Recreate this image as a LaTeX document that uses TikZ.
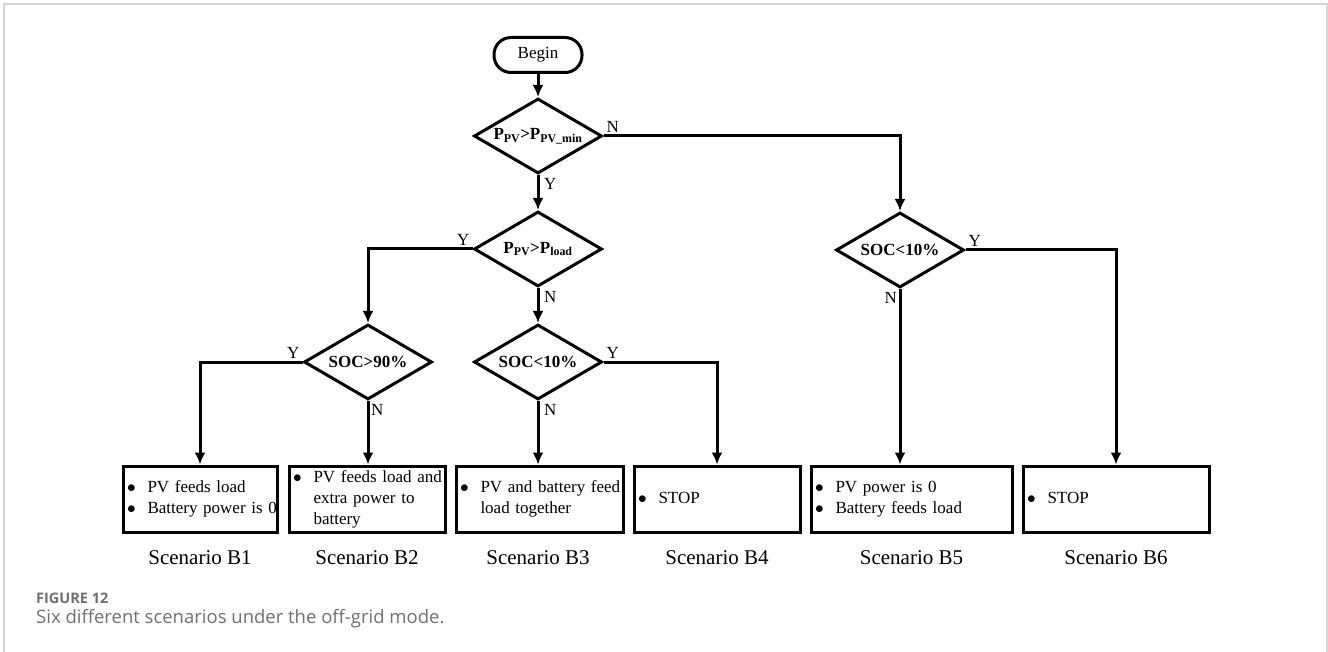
\documentclass[tikz,border=0pt]{standalone}
\usepackage{fontspec}
\setmainfont{Liberation Serif}
\newfontfamily\capfont{Open Sans}
\usetikzlibrary{shapes.geometric,arrows.meta}
\definecolor{framegray}{RGB}{214,214,214}
\definecolor{capgray}{RGB}{112,112,112}
\newcommand{\scentext}[1]{\begin{tabular}{@{}p{20.5pt}@{}l@{}}#1\end{tabular}}
\newcommand{\bdot}{$\bullet$}
\begin{document}
\begin{tikzpicture}[x=1pt, y=-1pt,
  every node/.style={font=\fontsize{17}{21}\selectfont},
  flow/.style={line width=3pt, -{Latex[length=12pt,width=11pt]}},
  startbox/.style={draw, line width=3pt, rounded corners=17pt, minimum width=88pt, minimum height=35pt, inner sep=0pt},
  decision/.style={draw, diamond, aspect=1.7, line width=3pt, minimum width=128pt, minimum height=75pt, inner sep=0pt, font=\fontsize{17}{21}\selectfont\bfseries},
  scenbox/.style={draw, rectangle, line width=3pt, minimum height=66pt, inner xsep=4pt, inner ysep=0pt, text width=#1, align=left},
  scenlabel/.style={font=\fontsize{21}{25}\selectfont},
  yn/.style={inner sep=3pt}]
\useasboundingbox (0,0) rectangle (1328,652);
\draw[framegray, line width=2pt] (4,652) -- (4,4) -- (1327,4) -- (1327,652);

% decisions
\node[startbox] (begin) at (538,55) {Begin};
\node[decision] (d1) at (538,136) {P\textsubscript{PV}>P\textsubscript{PV\_min}};
\node[decision] (d2) at (538,249) {P\textsubscript{PV}>P\textsubscript{load}};
\node[decision] (d3) at (368,362) {SOC>90\%};
\node[decision] (d4) at (538,362) {SOC<10\%};
\node[decision] (d5) at (900,250) {SOC<10\%};

% scenarios
\node[scenbox=146pt] (b1) at (200,499) {\scentext{\bdot & PV feeds load\\ \bdot & Battery power is 0}};
\node[scenbox=148pt] (b2) at (367,499) {\scentext{\bdot & PV feeds load and\\ & extra power to\\ & battery}};
\node[scenbox=159pt] (b3) at (539.5,499) {\scentext{\bdot & PV and battery feed\\ & load together}};
\node[scenbox=158pt] (b4) at (717,499) {\scentext{\bdot & STOP}};
\node[scenbox=193pt] (b5) at (911.5,499) {\scentext{\bdot & PV power is 0\\ \bdot & Battery feeds load}};
\node[scenbox=178pt] (b6) at (1116,499) {\scentext{\bdot & STOP}};

\node[scenlabel] (s1) at (200,558) {Scenario B1};
\node[scenlabel] (s2) at (367,558) {Scenario B2};
\node[scenlabel] (s3) at (538,558) {Scenario B3};
\node[scenlabel] (s4) at (717,558) {Scenario B4};
\node[scenlabel] (s5) at (911.5,558) {Scenario B5};
\node[scenlabel] (s6) at (1116,558) {Scenario B6};

% links
\draw[flow] (begin) -- (d1);
\draw[flow] (d1.east) -| (d5.north);
\node[yn, above right] (n1) at (d1.east) {N};
\draw[flow] (d1) -- (d2);
\node[yn, below right, xshift=3pt] (y1) at (d1.south) {Y};
\draw[flow] (d2.west) -| (d3.north);
\node[yn, above left] (y2) at (d2.west) {Y};
\draw[flow] (d2) -- (d4);
\node[yn, below right, xshift=3pt] (n2) at (d2.south) {N};
\draw[flow] (d3.west) -| (b1.north);
\node[yn, above left] (y3) at (d3.west) {Y};
\draw[flow] (d3.south) -- (d3.south |- b2.north);
\node[yn, below right] (n3) at (d3.south) {N};
\draw[flow] (d4.east) -| (b4.north);
\node[yn, above right] (y4) at (d4.east) {Y};
\draw[flow] (d4.south) -- (d4.south |- b3.north);
\node[yn, below right, xshift=3pt] (n4) at (d4.south) {N};
\draw[flow] (d5.east) -| (b6.north);
\node[yn, above right] (y5) at (d5.east) {Y};
\draw[flow] (d5.south) -- (d5.south |- b5.north);
\node[yn, below left] (n5) at (d5.south) {N};

% caption
\node[anchor=west, inner sep=0pt, text=capgray, font=\capfont\bfseries\fontsize{14.5}{18}\selectfont] (fig) at (36,598) {FIGURE 12};
\node[anchor=west, inner sep=0pt, text=capgray, font=\capfont\fontsize{18.5}{22}\selectfont] (cap) at (36,619) {Six different scenarios under the off-grid mode.};
\end{tikzpicture}
\end{document}
